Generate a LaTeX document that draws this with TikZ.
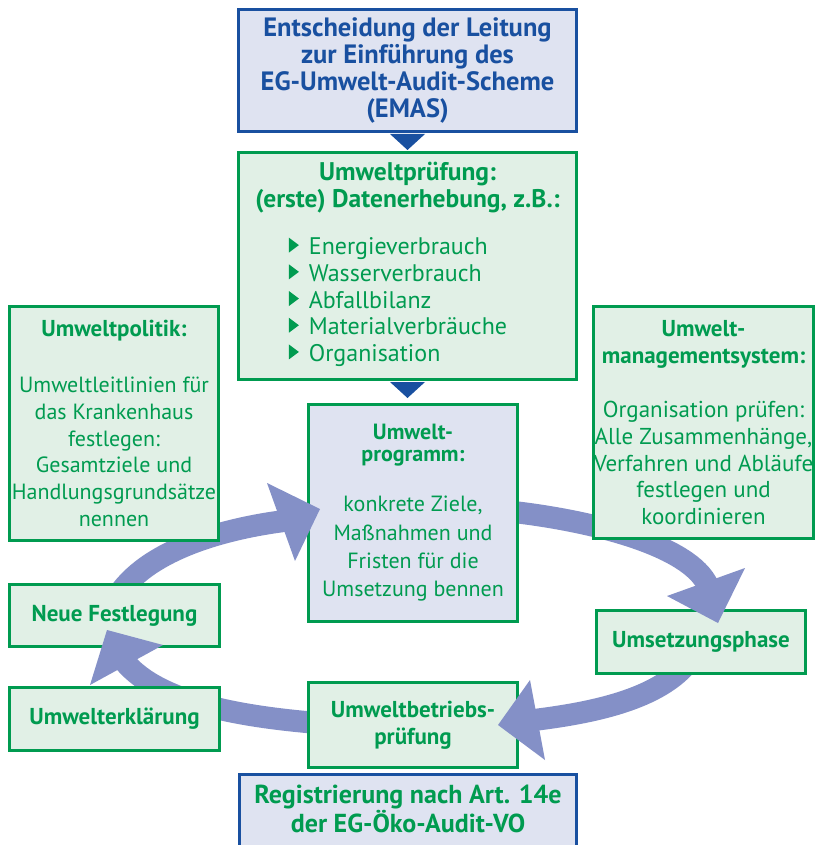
\documentclass[tikz,border=0pt]{standalone}
\usepackage{fontspec}
\setmainfont{PT Sans}
\usetikzlibrary{backgrounds,calc}
\definecolor{bl}{HTML}{1950A0}
\definecolor{lav}{HTML}{DFE3F1}
\definecolor{grn}{HTML}{009B50}
\definecolor{mint}{HTML}{E1F0E6}
\definecolor{arr}{HTML}{8490C7}
\newcommand\bul{\tikz[x=1pt,y=1pt,baseline=0pt]\fill[grn] (0,2)--(0,17)--(10,9.5)--cycle;}
\newcommand\bigbf[1]{{\fontsize{25.5}{26.7}\selectfont\bfseries #1}}
\tikzset{
  box/.style={draw, line width=3pt, align=center, inner sep=0pt},
  gbox/.style={box, draw=grn, fill=mint, text=grn},
  bbox/.style={box, draw=bl, fill=lav},
  rtext/.style={font=\fontsize{22}{26.7}\selectfont},
  btext/.style={font=\bfseries\fontsize{23}{26.7}\selectfont},
  band/.style={draw=arr, line width=22pt},
  head/.style={fill=arr},
  pointer/.style={fill=bl}
}
\begin{document}
\begin{tikzpicture}[x=1pt,y=-1pt]
\useasboundingbox (0,0) rectangle (814,845);
% boxes
\node[bbox, text=bl, font=\bfseries\fontsize{26.5}{26.7}\selectfont, minimum width=338pt, minimum height=122pt] (top) at (407.5,70.5)
  {Entscheidung der Leitung\\zur Einführung des\\EG-Umwelt-Audit-Scheme\\(EMAS)};
\node[gbox, font=\fontsize{24}{26.7}\selectfont, minimum width=338pt, minimum height=227pt] (pruef) at (407.5,266)
  {\bigbf{Umweltprüfung:}\\\bigbf{(erste) Datenerhebung, z.B.:}\\[20.3pt]%
   \begin{tabular}[t]{@{}l@{}}\bul\hspace{10pt}Energieverbrauch\\\bul\hspace{10pt}Wasserverbrauch\\\bul\hspace{10pt}Abfallbilanz\\\bul\hspace{10pt}Materialverbräuche\\\bul\hspace{10pt}Organisation\end{tabular}\hspace*{19pt}};
\node[gbox, fill=lav, font=\fontsize{22}{28.3}\selectfont, minimum width=209pt, minimum height=217pt] (prog) at (413,513)
  {\textbf{Umwelt-}\\[-6.3pt]\textbf{programm:}\\[21.7pt]konkrete Ziele,\\Maßnahmen und\\Fristen für die\\Umsetzung bennen};
\node[gbox, rtext, minimum width=209pt, minimum height=234pt] (pol) at (114,423.5)
  {{\fontsize{23}{26.7}\selectfont\bfseries Umweltpolitik:}\\[29.3pt]Umweltleitlinien für\\das Krankenhaus\\festlegen:\\Gesamtziele und\\Handlungsgrundsätze\\nennen};
\node[gbox, font=\fontsize{23}{26.7}\selectfont, minimum width=214pt, minimum height=232pt] (ums) at (703.5,422.5)
  {\textbf{Umwelt-}\\\textbf{managementsystem:}\\[28pt]Organisation prüfen:\\Alle Zusammenhänge,\\Verfahren und Abläufe\\festlegen und\\koordinieren};
\node[gbox, btext, minimum width=210pt, minimum height=62pt] (neu) at (114.5,615.5) {Neue Festlegung};
\node[gbox, btext, minimum width=210pt, minimum height=63pt] (erkl) at (114.5,719) {Umwelterklärung};
\node[gbox, btext, minimum width=209pt, minimum height=85pt] (betr) at (413,725) {Umweltbetriebs-\\prüfung};
\node[gbox, btext, minimum width=209pt, minimum height=63pt] (ums2) at (701,642) {Umsetzungsphase};
\node[bbox, minimum width=337pt, minimum height=84pt] (reg) at (408,816.5) {};
\node[text=grn, font=\bfseries\fontsize{26}{26.7}\selectfont, align=center, anchor=base, inner sep=0pt] (regt) at (408,832) {Registrierung nach Art. 14e\\der EG-Öko-Audit-VO};
% pointers
\fill[pointer] ($(top.south)+(-17.5,1)$) -- ($(top.south)+(17.5,1)$) -- ($(top.south)+(0,17)$) -- cycle;
\fill[pointer] ($(pruef.south)+(-17.5,1)$) -- ($(pruef.south)+(17.5,1)$) -- ($(pruef.south)+(0,17)$) -- cycle;
% loop arrows: bands behind the boxes, heads over them
\coordinate (a1s) at (115,600); \coordinate (a1e) at (284,521);
\coordinate (a2s) at (505,511); \coordinate (a2e) at (708,586);
\coordinate (a3s) at (690,660); \coordinate (a3e) at (534,720);
\coordinate (a4s) at (330,724); \coordinate (a4e) at (124,661);
\begin{pgfonlayer}{background}
\fill[white] (0,0) rectangle (814,845);
\draw[band] (a1s) .. controls (145,548) and (230,528) .. (a1e);
\draw[band] (a2s) .. controls (590,520) and (690,545) .. (a2e);
\draw[band] (a3s) .. controls (660,700) and (590,713) .. (a3e);
\draw[band] (a4s) .. controls (250,718) and (160,705) .. (a4e);
\end{pgfonlayer}
\coordinate (h1) at (320,509); \coordinate (h2) at (718,623);
\coordinate (h3) at (498,725); \coordinate (h4) at (107,630);
\fill[head] (267,483) -- (h1) -- (295,561) -- cycle;
\fill[head] (667,596) -- (h2) -- (745,568) -- cycle;
\fill[head] (530,680) -- (h3) -- (545,760) -- cycle;
\fill[head] (163,645) -- (h4) -- (90,685) -- cycle;
\end{tikzpicture}
\end{document}
